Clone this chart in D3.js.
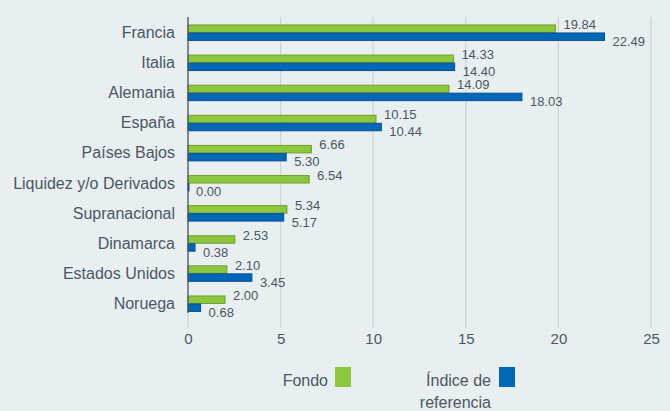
<!DOCTYPE html>
<html>
<head>
<meta charset="utf-8">
<script src="https://cdn.jsdelivr.net/npm/d3@7"></script>
<style>
  body { margin: 0; background: #e9eef1; }
  svg { display: block; font-family: "Liberation Sans", Arial, sans-serif; }
</style>
</head>
<body>
<div id="chart"></div>
<script>
// Daten
const categories = ['Francia', 'Italia', 'Alemania', 'España', 'Países Bajos',
  'Liquidez y/o Derivados', 'Supranacional', 'Dinamarca', 'Estados Unidos', 'Noruega'];
const fondo = [19.84, 14.33, 14.09, 10.15, 6.66, 6.54, 5.34, 2.53, 2.10, 2.00];
const indice = [22.49, 14.40, 18.03, 10.44, 5.30, 0.00, 5.17, 0.38, 3.45, 0.68];
const xTicks = [0, 5, 10, 15, 20, 25];
const seriesNames = ['Fondo', 'Índice de referencia'];

const width = 670, height = 411;
const textColor = '#4b5764';
const colors = { fill: ['#8dc63f', '#0068b7'], stroke: ['#6f9e2c', '#0a4f8c'] };

const svg = d3.select('#chart').append('svg')
  .attr('width', width)
  .attr('height', height);

svg.append('rect').attr('width', width).attr('height', height).attr('fill', '#e9eef1');

const x = d3.scaleLinear().domain([0, 25]).range([188, 651]);
const y = d3.scaleBand().domain(categories).range([17.4, 318.5])
  .paddingInner(0.47).paddingOuter(0.235);
const sub = d3.scaleBand().domain([0, 1]).range([0, y.bandwidth()]);

// Gitterlinien
svg.append('g').selectAll('line')
  .data(xTicks)
  .enter().append('line')
  .attr('x1', d => x(d)).attr('x2', d => x(d))
  .attr('y1', 17).attr('y2', 328)
  .attr('stroke', '#cfd3d6').attr('stroke-width', 1.2);

// X-Achse (nur Beschriftungen)
const xAxis = svg.append('g')
  .attr('transform', 'translate(0,333)')
  .call(d3.axisBottom(x).tickValues(xTicks).tickSize(0).tickPadding(0).tickFormat(d3.format('d')));
xAxis.select('.domain').remove();
xAxis.selectAll('text')
  .attr('dy', '0.71em')
  .attr('fill', textColor)
  .style('font-size', '15px');

// Balken
const rows = categories.map((c, i) => ({ cat: c, vals: [fondo[i], indice[i]] }));
const groups = svg.append('g').selectAll('g')
  .data(rows)
  .enter().append('g')
  .attr('transform', d => `translate(0,${y(d.cat)})`);

groups.selectAll('rect')
  .data(d => d.vals.map((v, k) => ({ v, k })))
  .enter().append('rect')
  .attr('x', x(0))
  .attr('y', d => sub(d.k) + 0.5)
  .attr('width', d => Math.max(x(d.v) - x(0), 1))
  .attr('height', sub.bandwidth() - 0.5)
  .attr('fill', d => colors.fill[d.k])
  .attr('stroke', d => colors.stroke[d.k])
  .attr('stroke-width', 1);

// Wertbeschriftungen
groups.selectAll('text')
  .data(d => d.vals.map((v, k) => ({ v, k })))
  .enter().append('text')
  .attr('x', d => x(d.v) + 8)
  .attr('y', d => d.k === 0 ? sub.bandwidth() / 4 + 2.5 : y.bandwidth() + 5.5)
  .attr('fill', textColor)
  .style('font-size', '13px')
  .text(d => d.v.toFixed(2));

// Y-Achse
svg.append('line')
  .attr('x1', x(0)).attr('x2', x(0))
  .attr('y1', 17).attr('y2', 313)
  .attr('stroke', '#4e5a66').attr('stroke-width', 1.3);

svg.append('g').selectAll('text')
  .data(categories)
  .enter().append('text')
  .attr('x', 175)
  .attr('y', d => y(d) + y.bandwidth() / 2)
  .attr('dy', '0.35em')
  .attr('text-anchor', 'end')
  .attr('fill', textColor)
  .style('font-size', '16px')
  .text(d => d);

// Legende
const legend = svg.append('g').style('font-size', '16px').attr('fill', textColor);
legend.append('text').attr('x', 328).attr('y', 386).attr('text-anchor', 'end').text(seriesNames[0]);
legend.append('rect').attr('x', 335).attr('y', 367).attr('width', 16).attr('height', 20).attr('fill', colors.fill[0]);
const idx = legend.append('text').attr('x', 491).attr('y', 386).attr('text-anchor', 'end');
idx.append('tspan').attr('x', 491).text('Índice de');
idx.append('tspan').attr('x', 491).attr('dy', 21.5).text('referencia');
legend.append('rect').attr('x', 499).attr('y', 367).attr('width', 16).attr('height', 20).attr('fill', colors.fill[1]);
</script>
</body>
</html>
